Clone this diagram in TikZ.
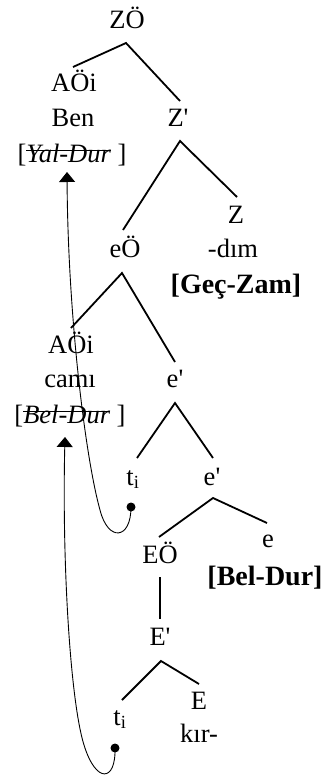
\documentclass[tikz,border=0pt]{standalone}
\usepackage{fontspec}
\setmainfont{Liberation Serif}
\usetikzlibrary{arrows.meta}
\newcommand\strk[1]{\leavevmode\setbox0=\hbox{#1}\rlap{\rule[0.42em]{\wd0}{1.1pt}}\box0\relax}
\begin{document}
\begin{tikzpicture}[x=1pt,y=-1pt,
  lbl/.style={anchor=base, inner sep=0pt, font=\fontsize{26.5}{30}\selectfont},
  bld/.style={anchor=base, inner sep=0pt, font=\fontsize{28}{32}\selectfont\bfseries},
  branch/.style={line width=1.8pt},
  move/.style={line width=0.9pt},
  tip/.style={-{Triangle[width=16pt,length=10pt]}},
  dotnode/.style={circle, fill=black, inner sep=0pt, minimum size=9pt}]
\useasboundingbox (0,0) rectangle (324,776);
% labels
\node[lbl] (ZO) at (127,29) {ZÖ};
\node[lbl] (AOi1) at (74,92) {AÖi};
\node[lbl] (Ben) at (73,126) {Ben};
\node[lbl] (Yal) at (72,162) {[\strk{\itshape Yal-Dur}\ ]};
\node[lbl] (Z1) at (178,126) {Z\textquotesingle};
\node[lbl] (eO) at (125,257) {eÖ};
\node[lbl] (Z) at (236,223) {Z};
\node[lbl] (dim) at (233,257) {-dım};
\node[bld] (Gec) at (236,293) {[Geç-Zam]};
\node[lbl] (AOi2) at (71,353) {AÖi};
\node[lbl] (cami) at (70,387) {camı};
\node[lbl] (Bel1) at (70,423) {[\strk{\itshape Bel-Dur}\ ]};
\node[lbl] (e1) at (175,387) {e\textquotesingle};
\node[lbl] (t1) at (133,485) {t\textsubscript{i}};
\node[lbl] (e2) at (212,485) {e\textquotesingle};
\node[lbl] (EO) at (160,563) {EÖ};
\node[lbl] (e) at (268,547) {e};
\node[bld] (Bel2) at (265,585) {[Bel-Dur]};
\node[lbl] (E1) at (160,645) {E\textquotesingle};
\node[lbl] (t2) at (120,725) {t\textsubscript{i}};
\node[lbl] (E) at (199,709) {E};
\node[lbl] (kir) at (199,742) {kır-};
% branch points
\coordinate (zo-d) at (126,43);
\coordinate (aoi1-u) at (73,67);
\coordinate (z1-u) at (180,101);
\coordinate (z1-d) at (180,141);
\coordinate (eo-u) at (123,230);
\coordinate (z-u) at (237,197);
\coordinate (eo-d) at (122,273);
\coordinate (aoi2-u) at (71,328);
\coordinate (e1-u) at (175,362);
\coordinate (e1-d) at (175,403);
\coordinate (t1-u) at (137,458);
\coordinate (e2-u) at (213,458);
\coordinate (e2-d) at (213,498);
\coordinate (EO-u) at (159,537);
\coordinate (e-u) at (267,523);
\coordinate (EO-d) at (160,577);
\coordinate (E1-u) at (160,619);
\coordinate (E1-d) at (161,661);
\coordinate (t2-u) at (122,700);
\coordinate (E-u) at (199,684);
\draw[branch] (aoi1-u) -- (zo-d) -- (z1-u);
\draw[branch] (eo-u) -- (z1-d) -- (z-u);
\draw[branch] (aoi2-u) -- (eo-d) -- (e1-u);
\draw[branch] (t1-u) -- (e1-d) -- (e2-u);
\draw[branch] (EO-u) -- (e2-d) -- (e-u);
\draw[branch] (EO-d) -- (E1-u);
\draw[branch] (t2-u) -- (E1-d) -- (E-u);
% movement
\node[dotnode] (dot1) at (131,507) {};
\node[dotnode] (dot2) at (115,748) {};
\coordinate (arr1) at (67,172);
\coordinate (arr2) at (65,437);
\draw[move,tip] (dot1.center) .. controls (131,540) and (108,542) .. (100,510)
  .. controls (86,460) and (68,320) .. (arr1);
\draw[move,tip] (dot2.center) .. controls (116,782) and (96,784) .. (84,745)
  .. controls (70,700) and (62,560) .. (arr2);
\end{tikzpicture}
\end{document}
